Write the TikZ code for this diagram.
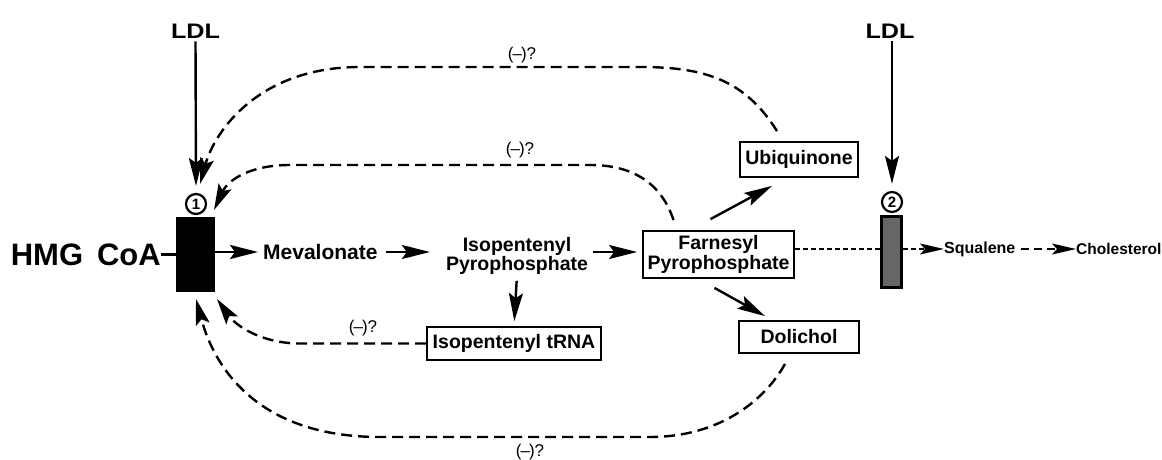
\documentclass[tikz,border=0pt]{standalone}
\usepackage{fontspec}
\setmainfont{Liberation Sans}
\usetikzlibrary{arrows.meta,calc}
\begin{document}
\begin{tikzpicture}[x=1pt,y=-1pt,
  txt/.style={inner sep=0pt, font=\bfseries\fontsize{21}{18}\selectfont},
  lbl/.style={inner sep=0pt, font=\fontsize{17}{17}\selectfont},
  boxed/.style={draw, line width=1.8pt, inner xsep=4pt, inner ysep=2pt, font=\bfseries\fontsize{19.5}{18}\selectfont},
  numc/.style={draw, circle, line width=2.2pt, inner sep=0pt, minimum size=20pt, font=\bfseries\fontsize{15}{15}\selectfont},
  arr/.style={line width=2.4pt, -{Stealth[length=28pt,width=14pt,inset=5pt]}},
  fb/.style={line width=2.4pt, dash pattern=on 11pt off 6pt, -{Stealth[length=26pt,width=14pt,inset=5pt]}},
  fine/.style={line width=1.8pt, dash pattern=on 5pt off 3pt}
]
\useasboundingbox (0,0) rectangle (1162,460);
% nodes
\node[txt, font=\bfseries\fontsize{21}{21}\selectfont] (ldla) at (195.5,31) {\scalebox{1.2}[1]{LDL}};
\node[txt, font=\bfseries\fontsize{21}{21}\selectfont] (ldlb) at (890,31) {\scalebox{1.2}[1]{LDL}};
\node[numc] (ca) at (196,204) {1};
\node[numc] (cb) at (892,202) {2};
\node[draw, fill=black, line width=1pt, minimum width=38pt, minimum height=74pt, inner sep=0pt] (ra) at (195.5,254.5) {};
\node[draw, fill=black!60, line width=2.4pt, minimum width=20pt, minimum height=71pt, inner sep=0pt] (rb) at (891.5,252) {};
\node[txt, anchor=east, font=\bfseries\fontsize{31}{31}\selectfont] (hmg) at (161,255) {HMG\hspace{0.45em}CoA};
\node[txt, anchor=west] (mev) at (263,252) {Mevalonate};
\node[txt, align=center, font=\bfseries\fontsize{19.5}{17}\selectfont] (ipp) at (517,256) {Isopentenyl\\Pyrophosphate};
\node[boxed, align=center, minimum width=151pt, minimum height=47pt] (fpp) at (718.5,254.5) {Farnesyl\\Pyrophosphate};
\node[boxed, minimum width=118pt, minimum height=35pt] (ubi) at (799,159.5) {Ubiquinone};
\node[boxed, minimum width=120pt, minimum height=32pt] (dol) at (799,337) {Dolichol};
\node[boxed, minimum width=174pt, minimum height=33pt] (trna) at (514,343.5) {Isopentenyl tRNA};
\node[txt, anchor=west, font=\bfseries\fontsize{16}{16}\selectfont] (sq) at (944,249) {Squalene};
\node[txt, anchor=west, font=\bfseries\fontsize{15.5}{16}\selectfont] (chol) at (1076,249) {Cholesterol};
% labels
\node[lbl] (la) at (522,55) {(\kern-1pt–\kern-1pt)?};
\node[lbl] (lb) at (520,150) {(\kern-1pt–\kern-1pt)?};
\node[lbl] (lc) at (363,328) {(\kern-1pt–\kern-1pt)?};
\node[lbl] (ld) at (530,452) {(\kern-1pt–\kern-1pt)?};
% coordinates for curve ends
\coordinate (sA) at ($(ubi.north)+(-22,-10)$);
\coordinate (sB) at ($(fpp.north)+(-45,-10)$);
\coordinate (sD) at ($(dol.south)+(-14,10)$);
\coordinate (tA) at (200,184);
\coordinate (tB) at (214,210);
\coordinate (tC) at (217,299);
\coordinate (tD) at (196,299);
% solid connectors
\draw[arr, shorten <=3pt, shorten >=7pt] (ldla.south) -- (ca.north);
\draw[arr, shorten <=3pt, shorten >=7pt] (ldlb.south -| cb) -- (cb.north);
\draw[line width=2.2pt] (hmg.east |- ra) -- (ra.west);
\draw[arr, shorten >=5pt] (ra.east |- mev) -- (mev.west);
\draw[arr, shorten <=8pt, shorten >=16pt] (mev.east) -- (ipp.west |- mev);
\draw[arr, shorten <=5pt, shorten >=5pt] (ipp.east |- mev) -- (fpp.west |- mev);
\draw[arr, shorten <=6pt, shorten >=5pt] (ipp.south) -- (trna.north);
\draw[arr] ($(fpp.north)+(-8,-11)$) -- ($(ubi.south)+(-27,8)$);
\draw[arr] ($(fpp.south)+(-4,9)$) -- ($(dol.north)+(-34,-4)$);
% dashed to squalene / cholesterol
\draw[fine] (fpp.east |- sq) -- (rb.west |- sq);
\draw[fine, -{Stealth[length=24pt,width=11pt,inset=5pt]}] (rb.east |- sq) -- (sq.west);
\draw[line width=1.8pt, dash pattern=on 8pt off 5pt, -{Stealth[length=24pt,width=11pt,inset=5pt]}] (sq.east) ++(5,0) -- (chol.west);
% dashed feedback curves
\draw[fb] (sA) .. controls (745,80) and (705,67) .. (640,67) -- (360,67) .. controls (260,67) and (215,130) .. (tA);
\draw[fb] (sB) .. controls (662,185) and (635,165) .. (590,165) -- (290,165) .. controls (250,165) and (228,180) .. (tB);
\draw[fb] (trna.west) -- (300,343.5) .. controls (262,343.5) and (236,326) .. (tC);
\draw[fb] (sD) .. controls (765,400) and (720,437) .. (650,437) -- (380,437) .. controls (260,437) and (215,370) .. (tD);
\end{tikzpicture}
\end{document}
